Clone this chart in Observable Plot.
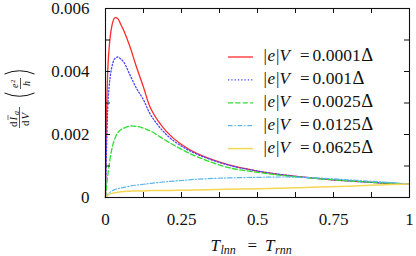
<!DOCTYPE html>
<html><head><meta charset="utf-8">
<script src="https://cdn.jsdelivr.net/npm/d3@7"></script>
<script src="https://cdn.jsdelivr.net/npm/@observablehq/plot@0.6"></script>
<style>
body{margin:0;background:#fff}
svg{display:block}
#chart svg, #chart svg text{font-family:"Liberation Serif","Times New Roman","DejaVu Serif",serif !important;}
</style>
</head><body><div id="chart"></div>
<script>
// ---- data ----
const T = [0, 0.005, 0.01, 0.02, 0.03, 0.04, 0.05, 0.06, 0.08, 0.1, 0.125, 0.15, 0.2, 0.25, 0.3, 0.4, 0.5, 0.6, 0.7, 0.8, 0.9, 1];
const v0001 = [0, 0.0033, 0.0045, 0.0054, 0.0057, 0.00568, 0.0055, 0.0053, 0.0048, 0.0042, 0.0035, 0.0028, 0.0021, 0.00168, 0.0014, 0.00105, 0.00084, 0.0007, 0.0006, 0.000525, 0.000467, 0.00043];
const v001  = [0, 0.0021, 0.0033, 0.0041, 0.0044, 0.00446, 0.0044, 0.0043, 0.0039, 0.0035, 0.0031, 0.0026, 0.0020, 0.00163, 0.00138, 0.00104, 0.00084, 0.0007, 0.0006, 0.000525, 0.000467, 0.00043];
const v0025 = [0, 0.0005, 0.0009, 0.0015, 0.00185, 0.00205, 0.00215, 0.0022, 0.00227, 0.00226, 0.0022, 0.0021, 0.0018, 0.00153, 0.0013, 0.00096, 0.0008, 0.00068, 0.0006, 0.00053, 0.00047, 0.00043];
const v0125 = [0, 0.00007, 0.00012, 0.0002, 0.00025, 0.00028, 0.0003, 0.00032, 0.00036, 0.00039, 0.00042, 0.00045, 0.0005, 0.00054, 0.00058, 0.00062, 0.00064, 0.00065, 0.00062, 0.00056, 0.0005, 0.00043];
const v0625 = [0, 0.00005, 0.00009, 0.00013, 0.00015, 0.00017, 0.00018, 0.00019, 0.0002, 0.00021, 0.00021, 0.00022, 0.00022, 0.00023, 0.00024, 0.00026, 0.00028, 0.0003, 0.00033, 0.00036, 0.0004, 0.00043];
const seriesLabels = ["0.0001", "0.001", "0.0025", "0.0125", "0.0625"];
const xTicks = [0, 0.125, 0.25, 0.375, 0.5, 0.625, 0.75, 0.875, 1];
const xLabels = [0, 0.25, 0.5, 0.75, 1];
const yTicks = [0, 0.001, 0.002, 0.003, 0.004, 0.005, 0.006];
const yLabels = [0, 0.002, 0.004, 0.006];

const styles = [
  {stroke: "#ff2a2a", dash: null, w: 1.3},
  {stroke: "#4646ff", dash: "1.3,2", w: 1.3},
  {stroke: "#2ee02e", dash: "5,2.4", w: 1.3},
  {stroke: "#58b8ec", dash: "4.5,2,1.2,2", w: 1.2},
  {stroke: "#f6d654", dash: null, w: 1.5}
];
const allValues = [v0001, v001, v0025, v0125, v0625];
const series = allValues.map((vals, k) => ({label: seriesLabels[k], data: T.map((t, i) => ({t, v: vals[i]})), ...styles[k]}));

const W = 416, H = 256, mL = 105, mR = 7, mT = 8, mB = 59;
const innerH = H - mT - mB;
const tk = 5;

const plot = Plot.plot({
  width: W, height: H,
  marginLeft: mL, marginRight: mR, marginTop: mT, marginBottom: mB,
  style: {fontSize: "17px", background: "#fff", color: "#111"},
  x: {domain: [0, 1]},
  y: {domain: [0, 0.006]},
  marks: [
    ...series.map(s => Plot.line(s.data, {x: "t", y: "v", stroke: s.stroke, strokeWidth: s.w, strokeDasharray: s.dash, curve: "catmull-rom"})),
    Plot.frame({stroke: "#111", strokeWidth: 1.1}),
    Plot.ruleX(xTicks, {x: d => d, insetTop: innerH - tk, stroke: "#111"}),
    Plot.ruleX(xTicks, {x: d => d, insetBottom: innerH - tk, stroke: "#111"}),
    Plot.ruleY(yTicks, {y: d => d, insetRight: (W - mL - mR) - tk, stroke: "#111"}),
    Plot.ruleY(yTicks, {y: d => d, insetLeft: (W - mL - mR) - tk, stroke: "#111"}),
    Plot.axisX(xLabels, {tickSize: 0, tickPadding: 15, tickFormat: d => String(d), label: null, fontSize: 17}),
    Plot.axisY(yLabels, {tickSize: 0, tickPadding: 16, tickFormat: d => String(d), label: null, fontSize: 17})
  ]
});
document.getElementById("chart").appendChild(plot);

const svg = d3.select(plot);
const ink = "#111";
function txt(parent, x, y, s, opts = {}) {
  const t = parent.append("text").attr("x", x).attr("y", y).attr("fill", ink)
    .attr("font-size", opts.size || 17).attr("text-anchor", opts.anchor || "start").text(s);
  if (opts.italic) t.attr("font-style", "italic");
  return t;
}

// legend
const lg = svg.append("g");
series.forEach((s, i) => {
  const y = 57 + i * 22.9;
  lg.append("line").attr("x1", 228).attr("x2", 253).attr("y1", y).attr("y2", y)
    .attr("stroke", s.stroke).attr("stroke-width", s.w).attr("stroke-dasharray", s.dash);
  const by = y + 4;
  txt(lg, 263.5, by, "|");
  txt(lg, 267.5, by, "e", {italic: true});
  txt(lg, 276, by, "|");
  txt(lg, 279.5, by, "V", {italic: true});
  txt(lg, 300, by, "=");
  const lab = txt(lg, 312.5, by, s.label, {size: 17.5});
  const w = lab.node().getComputedTextLength();
  txt(lg, 312.5 + w + 0.5, by, "Δ", {size: 18.5});
});

// x title
const xg = svg.append("g");
txt(xg, 210.5, 251, "T", {italic: true});
txt(xg, 220.5, 254, "lnn", {italic: true, size: 12});
txt(xg, 247.5, 251, "=");
txt(xg, 265, 251, "T", {italic: true});
txt(xg, 275, 254, "rnn", {italic: true, size: 12});

// y title (rotated)
const yg = svg.append("g").attr("transform", "translate(19.5,99) rotate(-90)");
yg.append("line").attr("x1", -29).attr("x2", -8).attr("y1", 0).attr("y2", 0).attr("stroke", ink).attr("stroke-width", 0.7);
txt(yg, -28, -2.5, "d", {size: 11});
txt(yg, -21.5, -2.5, "I", {size: 11, italic: true});
yg.append("line").attr("x1", -21).attr("x2", -16).attr("y1", -11.5).attr("y2", -11.5).attr("stroke", ink).attr("stroke-width", 0.6);
txt(yg, -16, -1, "a", {size: 8, italic: true});
txt(yg, -27, 9.5, "d", {size: 11});
txt(yg, -20.5, 9.5, "V", {size: 11, italic: true});
// parens
yg.append("path").attr("d", "M6,-15 Q-0.5,0 6,15").attr("fill", "none").attr("stroke", ink).attr("stroke-width", 1);
yg.append("path").attr("d", "M25,-15 Q31.5,0 25,15").attr("fill", "none").attr("stroke", ink).attr("stroke-width", 1);
// e^2 / h
yg.append("line").attr("x1", 10).attr("x2", 21).attr("y1", 1).attr("y2", 1).attr("stroke", ink).attr("stroke-width", 0.7);
txt(yg, 11, -1.5, "e", {size: 10, italic: true});
txt(yg, 16, -5, "2", {size: 7});
txt(yg, 15.5, 10, "h", {size: 10, italic: true, anchor: "middle"});
</script>
</body></html>
